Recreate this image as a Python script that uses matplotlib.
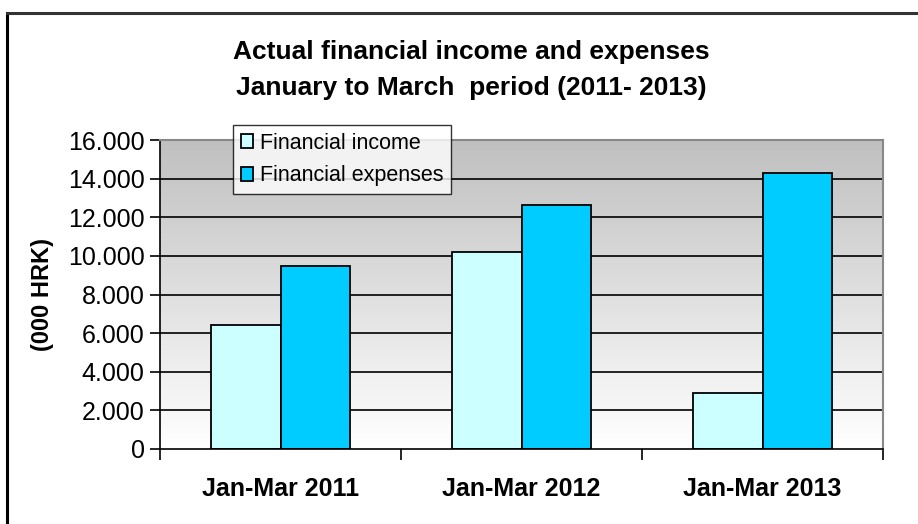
import numpy as np
import matplotlib.pyplot as plt
from matplotlib.lines import Line2D
from matplotlib.colors import LinearSegmentedColormap
from matplotlib.ticker import FuncFormatter

plt.rcParams['font.family'] = ['Liberation Sans', 'DejaVu Sans']

periods = ["Jan-Mar 2011", "Jan-Mar 2012", "Jan-Mar 2013"]
income = [6400, 10200, 2900]
expenses = [9500, 12650, 14300]
series_names = ["Financial income", "Financial expenses"]
y_ticks = [0, 2000, 4000, 6000, 8000, 10000, 12000, 14000, 16000]

W, H = 918, 524
fig = plt.figure(figsize=(W / 100, H / 100), dpi=100)
ax = fig.add_axes([160 / W, 1 - 449 / H, (883 - 160) / W, (449 - 140) / H])

x = np.arange(len(periods))
bw = 0.29

# gray (top) to white (bottom) background of the plot area
grad = np.linspace(0, 1, 256).reshape(-1, 1)
bg = LinearSegmentedColormap.from_list("bg", ["#c0c0c0", "#ffffff"])
ax.imshow(grad, cmap=bg, aspect="auto", origin="upper",
          extent=[-0.5, 2.5, 0, 16000], zorder=0)

for t in y_ticks[1:-1]:
    ax.axhline(t, color="black", lw=1.2, zorder=1)

ax.bar(x - bw / 2, income, bw, color="#ccffff", edgecolor="black", lw=1.3,
       label=series_names[0], zorder=2)
ax.bar(x + bw / 2, expenses, bw, color="#00ccff", edgecolor="black", lw=1.3,
       label=series_names[1], zorder=2)

ax.set_xlim(-0.5, 2.5)
ax.set_ylim(0, 16000)
ax.set_yticks(y_ticks)
ax.yaxis.set_major_formatter(FuncFormatter(lambda v, p: f"{int(v):,}".replace(",", ".")))
ax.tick_params(axis="y", labelsize=18, length=7, width=1.2, pad=4)

ax.set_xticks([-0.5, 0.5, 1.5, 2.5])
ax.set_xticklabels([])
ax.set_xticks(x, minor=True)
ax.set_xticklabels(periods, minor=True, fontsize=18, fontweight="bold")
ax.tick_params(axis="x", which="major", length=8, width=1.2, direction="out")
ax.tick_params(axis="x", which="minor", length=0, pad=20)

for s in ["top", "right"]:
    ax.spines[s].set_color("#888888")
    ax.spines[s].set_linewidth(1.5)
ax.spines["left"].set_linewidth(1.2)
ax.spines["bottom"].set_linewidth(1.2)

ax.set_ylabel("(000 HRK)", fontsize=17, fontweight="bold", labelpad=10)

leg = ax.legend(loc="upper left", bbox_to_anchor=(233 / W, 1 - 125 / H),
                bbox_transform=fig.transFigure, fontsize=15.5, frameon=True,
                fancybox=False, edgecolor="black", handlelength=0.6,
                handleheight=0.6, handletextpad=0.3, borderpad=0.35,
                labelspacing=0.55, borderaxespad=0)
leg.get_frame().set_linewidth(1.0)
leg.set_zorder(5)

fig.text(471 / W, 1 - 52 / H, "Actual financial income and expenses",
         ha="center", va="center", fontsize=19, fontweight="bold")
fig.text(471 / W, 1 - 88 / H, "January to March  period (2011- 2013)",
         ha="center", va="center", fontsize=19, fontweight="bold")

# outer chart border (only top and left visible in the crop)
fig.add_artist(Line2D([7 / W, 7 / W], [0, 1 - 13 / H], color="black", lw=2.2))
fig.add_artist(Line2D([7 / W, 1], [1 - 13 / H, 1 - 13 / H], color="#333333", lw=2.2))

fig.savefig("out.png", dpi=100)
